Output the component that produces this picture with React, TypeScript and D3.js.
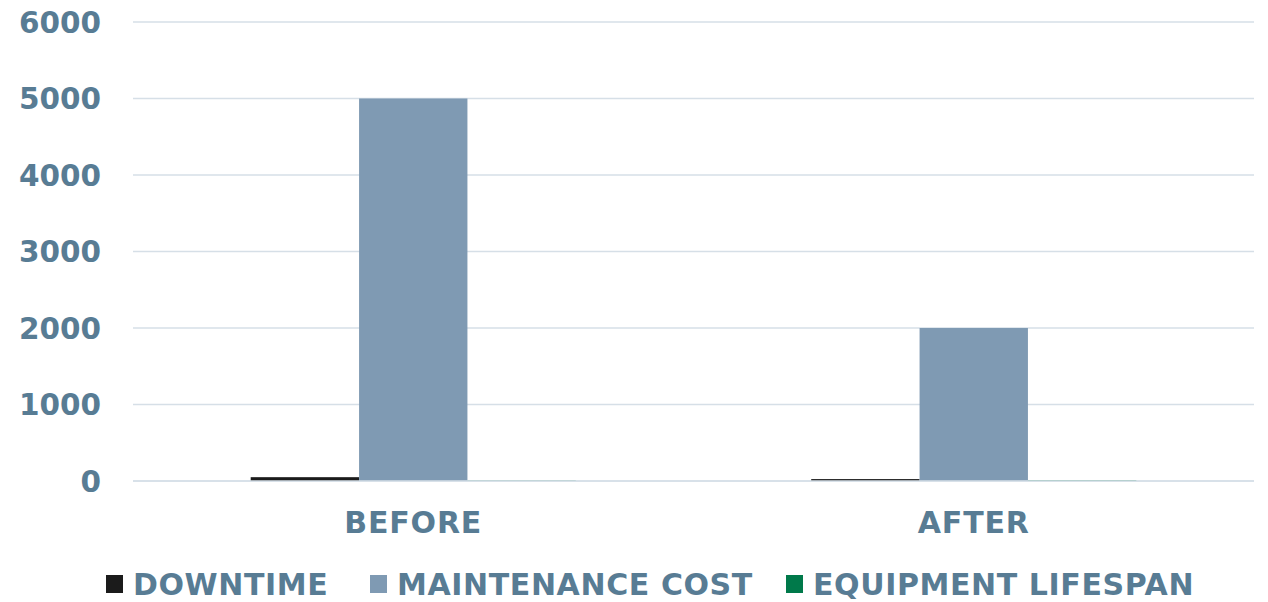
import React from 'react';
import * as d3 from 'd3';

const categories = ['BEFORE', 'AFTER'];
const seriesNames = ['DOWNTIME', 'MAINTENANCE COST', 'EQUIPMENT LIFESPAN'];
const seriesColors = ['#1b1b1b', '#7f9ab3', '#00794a'];
const downtime = [50, 25];
const maintenanceCost = [5000, 2000];
const equipmentLifespan = [5, 8];
const yTicks = [0, 1000, 2000, 3000, 4000, 5000, 6000];

const W = 1268;
const H = 602;
const margin = { top: 22, right: 14, bottom: 121, left: 133 };
const textColor = '#587c94';
const gridColor = '#d6dfe7';
const font = '"DejaVu Sans", sans-serif';

const App: React.FC = () => {
    const innerW = W - margin.left - margin.right;
    const innerH = H - margin.top - margin.bottom;
    const series = [downtime, maintenanceCost, equipmentLifespan];

    const x0 = d3.scaleBand<string>().domain(categories).range([0, innerW]).paddingInner(0.42).paddingOuter(0.21);
    const x1 = d3.scaleBand<number>().domain(d3.range(series.length)).range([0, x0.bandwidth()]);
    const y = d3.scaleLinear().domain([0, 6000]).range([innerH, 0]);

    const legendX = [106, 370, 786];

    return (
        <svg width={W} height={H} style={{ position: 'absolute', left: 0, top: 0 }} fontFamily={font}>
            <g transform={`translate(${margin.left},${margin.top})`}>
                {yTicks.map(t => (
                    <g key={t}>
                        <line x1={0} x2={innerW} y1={y(t)} y2={y(t)} stroke={gridColor} strokeWidth={1.5} />
                        <text x={-32} y={y(t)} dy="0.36em" textAnchor="end" fill={textColor}
                            fontSize={29.5} fontWeight="bold">{t}</text>
                    </g>
                ))}
                {categories.map((c, ci) => (
                    <g key={c} transform={`translate(${x0(c)},0)`}>
                        {series.map((s, si) => (
                            <rect key={si} x={x1(si)} width={x1.bandwidth()} y={y(s[ci])}
                                height={innerH - y(s[ci])} fill={seriesColors[si]} />
                        ))}
                        <text x={x0.bandwidth() / 2} y={innerH + 52} textAnchor="middle" fill={textColor}
                            fontSize={30} fontWeight="bold" letterSpacing={0.8}>{c}</text>
                    </g>
                ))}
                {/* baseline drawn over the bars */}
                <line x1={0} x2={innerW} y1={y(0)} y2={y(0)} stroke={gridColor} strokeWidth={1.5} />
            </g>
            {seriesNames.map((n, i) => (
                <g key={n} transform={`translate(${legendX[i]},575)`}>
                    <rect x={0} y={0} width={17} height={18} fill={seriesColors[i]} />
                    <text x={27} y={9} dy="0.36em" fill={textColor} fontSize={30} fontWeight="bold"
                        letterSpacing={0.6}>{n}</text>
                </g>
            ))}
        </svg>
    );
};

export default App;
